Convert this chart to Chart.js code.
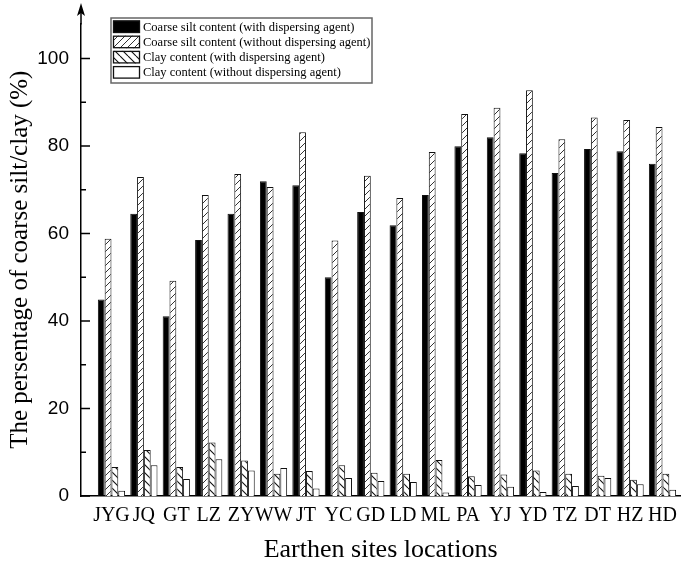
<!DOCTYPE html>
<html>
<head>
<meta charset="utf-8">
<script src="https://cdn.jsdelivr.net/npm/chart.js@4/dist/chart.umd.min.js"></script>
<style>
  html, body { margin: 0; padding: 0; background: #fff; }
  canvas { display: block; }
</style>
</head>
<body>
<canvas id="c" width="685" height="569"></canvas>
<script>
const categories = ['JYG','JQ','GT','LZ','ZY','WW','JT','YC','GD','LD','ML','PA','YJ','YD','TZ','DT','HZ','HD'];
const siltWith    = [44.9,64.5,41.1,58.5,64.5,71.9,71.0,50.0,64.9,61.9,68.8,79.9,82.0,78.3,73.8,79.3,78.8,75.9];
const siltWithout = [58.8,72.9,49.2,68.8,73.6,70.6,83.1,58.4,73.2,68.1,78.6,87.3,88.7,92.7,81.5,86.5,85.9,84.3];
const clayWith    = [6.6,10.5,6.6,12.2,8.1,5.1,5.7,7.0,5.3,5.1,8.2,4.5,4.9,5.8,5.1,4.6,3.7,5.1];
const clayWithout = [1.2,7.0,3.9,8.4,5.8,6.4,1.7,4.1,3.4,3.2,0.8,2.5,2.1,0.9,2.3,4.1,2.7,1.4];
const seriesLabels = [
  'Coarse silt content (with dispersing agent)',
  'Coarse silt content (without dispersing agent)',
  'Clay content (with dispersing agent)',
  'Clay content (without dispersing agent)'
];
const yMajorTicks = [0,20,40,60,80,100];
const yMinorTicks = [10,30,50,70,90];

function hatch(dir, size, color, lw) {
  const c = document.createElement('canvas');
  c.width = size; c.height = size;
  const g = c.getContext('2d');
  g.fillStyle = '#fff'; g.fillRect(0,0,size,size);
  g.strokeStyle = color; g.lineWidth = lw;
  g.beginPath();
  for (let k = -1; k <= 1; k++) {
    if (dir === '/') { g.moveTo(k*size, size); g.lineTo(k*size+size, 0); }
    else { g.moveTo(k*size, 0); g.lineTo(k*size+size, size); }
  }
  g.stroke();
  return g.createPattern(c, 'repeat');
}
const slashPat = hatch('/', 7, '#333', 1);
const backPat = hatch('\\', 8, '#111', 1.1);

const toXY = arr => arr.map((v,i) => ({x:i, y:v}));
const fills = ['#000', slashPat, backPat, '#fff'];
const allSeries = [siltWith, siltWithout, clayWith, clayWithout];

const deco = {
  id: 'deco',
  afterDraw(chart) {
    const {ctx, chartArea: a, scales: {y}} = chart;
    ctx.save();
    ctx.strokeStyle = '#000';
    ctx.lineWidth = 1.5;
    ctx.beginPath();
    yMajorTicks.forEach(v => { const p = y.getPixelForValue(v); ctx.moveTo(a.left, p); ctx.lineTo(a.left + 9, p); });
    yMinorTicks.forEach(v => { const p = y.getPixelForValue(v); ctx.moveTo(a.left, p); ctx.lineTo(a.left + 5, p); });
    ctx.stroke();
    // arrow head on y axis
    ctx.fillStyle = '#000';
    ctx.beginPath();
    ctx.moveTo(a.left, 3);
    ctx.lineTo(a.left - 4, 16);
    ctx.lineTo(a.left, 13);
    ctx.lineTo(a.left + 4, 16);
    ctx.closePath();
    ctx.fill();
    ctx.beginPath(); ctx.moveTo(a.left, 13); ctx.lineTo(a.left, a.top + 1); ctx.stroke();

    // legend
    const bx = 111, by = 18, bw = 261, bh = 65;
    ctx.fillStyle = '#fff';
    ctx.fillRect(bx, by, bw, bh);
    ctx.strokeStyle = '#666';
    ctx.lineWidth = 1.5;
    ctx.strokeRect(bx, by, bw, bh);
    ctx.font = '12.5px "Liberation Serif", "Times New Roman", serif';
    ctx.textBaseline = 'middle';
    chart.data.datasets.forEach((ds, i) => {
      const ry = by + 2.5 + i * 15.2;
      ctx.fillStyle = ds.backgroundColor;
      ctx.fillRect(bx + 2, ry, 27, 12.5);
      ctx.strokeStyle = '#111';
      ctx.lineWidth = 1.3;
      ctx.strokeRect(bx + 2.5, ry + 0.5, 26, 11.5);
      ctx.fillStyle = '#000';
      ctx.fillText(ds.label, bx + 32, ry + 7);
    });
    ctx.restore();
  }
};

new Chart(document.getElementById('c'), {
  type: 'bar',
  data: {
    datasets: allSeries.map((arr, i) => ({
      label: seriesLabels[i],
      data: toXY(arr),
      backgroundColor: fills[i],
      borderColor: '#111',
      borderWidth: 1,
      categoryPercentage: 0.84,
      barPercentage: 1.0
    }))
  },
  options: {
    responsive: false,
    animation: false,
    devicePixelRatio: 1,
    layout: { padding: { top: 11, right: 2, left: 0, bottom: 0 } },
    plugins: { legend: { display: false }, tooltip: { enabled: false } },
    scales: {
      x: {
        type: 'linear',
        offset: false,
        min: -0.94,
        max: 17.55,
        grid: { display: false, drawTicks: false, offset: false },
        border: { display: true, color: '#000', width: 1.5 },
        afterBuildTicks: axis => { axis.ticks = categories.map((c, i) => ({ value: i })); },
        afterFit: s => { s.height = 73; },
        ticks: {
          autoSkip: false,
          maxRotation: 0,
          padding: 8,
          color: '#000',
          font: { family: '"Liberation Serif", "Times New Roman", serif', size: 20 },
          callback: v => categories[v]
        },
        title: {
          display: true,
          text: 'Earthen sites locations',
          color: '#000',
          font: { family: '"Liberation Serif", "Times New Roman", serif', size: 26, lineHeight: 1.2 },
          padding: { top: 0, bottom: 3 }
        }
      },
      y: {
        min: 0,
        max: 108,
        grid: { display: false, drawTicks: false },
        border: { display: true, color: '#000', width: 1.5 },
        afterBuildTicks: axis => { axis.ticks = yMajorTicks.map(v => ({ value: v })); },
        afterFit: s => { s.width = 81; },
        ticks: {
          padding: 12,
          color: '#000',
          font: { family: '"Liberation Sans", Arial, sans-serif', size: 19 }
        },
        title: {
          display: true,
          text: 'The persentage of coarse silt/clay (%)',
          color: '#000',
          font: { family: '"Liberation Serif", "Times New Roman", serif', size: 25, lineHeight: 1.2 },
          padding: { top: 5, bottom: 0 }
        }
      }
    }
  },
  plugins: [deco]
});
</script>
</body>
</html>
